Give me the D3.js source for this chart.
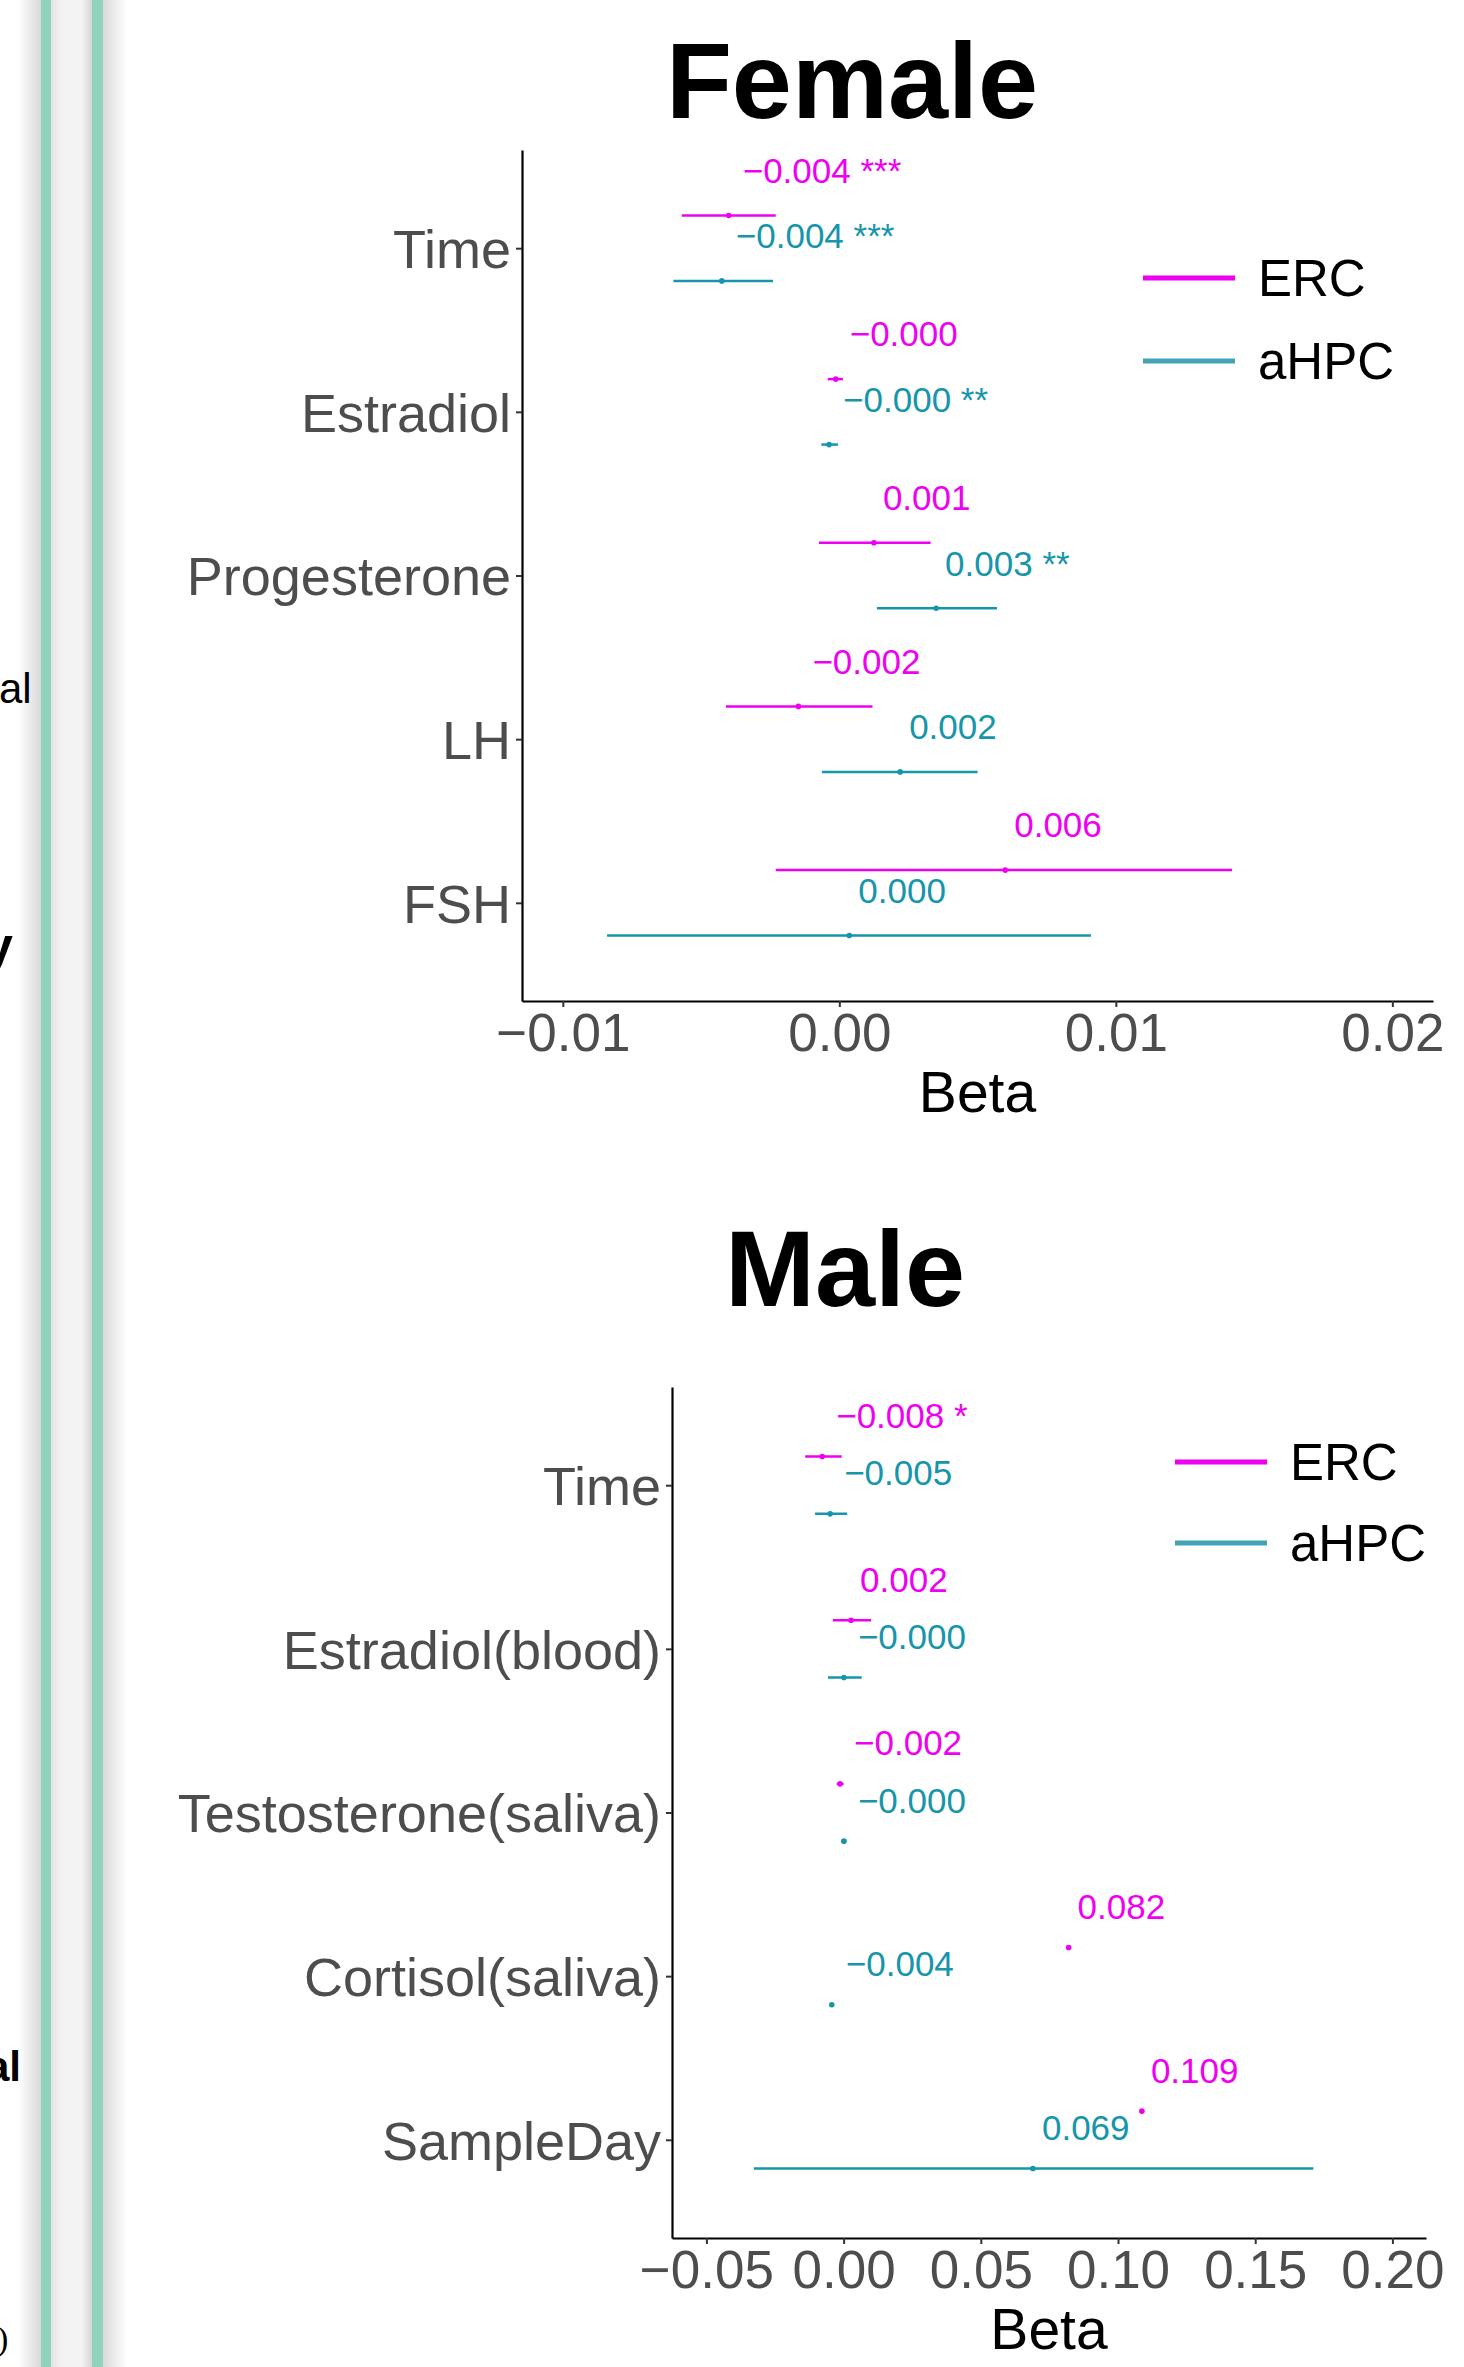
<!DOCTYPE html>
<html>
<head>
<meta charset="utf-8">
<script src="https://cdn.jsdelivr.net/npm/d3@7"></script>
<style>
  body { margin: 0; background: #fff; }
  svg { display: block; font-family: "Liberation Sans", Arial, Helvetica, sans-serif; }
</style>
</head>
<body>
<svg id="chart" width="1464" height="2367"></svg>
<script>
// Female model
const femaleTerms = ["Time", "Estradiol", "Progesterone", "LH", "FSH"];
const femaleErcEst = [-0.0040, -0.00013, 0.00125, -0.00148, 0.0060];
const femaleErcLo = [-0.0057, -0.00042, -0.00074, -0.0041, -0.0023];
const femaleErcHi = [-0.0023, 0.00013, 0.0033, 0.0012, 0.0142];
const femaleErcLabels = ["−0.004 ***", "−0.000", "0.001", "−0.002", "0.006"];
const femaleHpcEst = [-0.00425, -0.00037, 0.0035, 0.0022, 0.00036];
const femaleHpcLo = [-0.0060, -0.00065, 0.00136, -0.00063, -0.0084];
const femaleHpcHi = [-0.0024, -0.00005, 0.0057, 0.0050, 0.0091];
const femaleHpcLabels = ["−0.004 ***", "−0.000 **", "0.003 **", "0.002", "0.000"];
const femaleTicks = [-0.01, 0, 0.01, 0.02];

// Male model
const maleTerms = ["Time", "Estradiol(blood)", "Testosterone(saliva)", "Cortisol(saliva)", "SampleDay"];
const maleErcEst = [-0.0078, 0.0027, -0.0013, 0.082, 0.1087];
const maleErcLo = [-0.0140, -0.0039, -0.0025, 0.082, 0.1087];
const maleErcHi = [-0.0007, 0.0100, 0.0000, 0.082, 0.1087];
const maleErcLabels = ["−0.008 *", "0.002", "−0.002", "0.082", "0.109"];
const maleHpcEst = [-0.0049, 0.0001, 0.0001, -0.0043, 0.069];
const maleHpcLo = [-0.0104, -0.0057, -0.0008, -0.0043, -0.0327];
const maleHpcHi = [0.0013, 0.0066, 0.0010, -0.0043, 0.1712];
const maleHpcLabels = ["−0.005", "−0.000", "−0.000", "−0.004", "0.069"];
const maleTicks = [-0.05, 0, 0.05, 0.10, 0.15, 0.20];

const regions = ["ERC", "aHPC"];
const colors = { ERC: "#ee00f0", aHPC: "#1795ab" };
const legendColors = { ERC: "#ee00f0", aHPC: "#44a2b6" };

const svg = d3.select("#chart");

// Left strip (edge of the neighbouring page)
const defs = svg.append("defs");
function grad(id, stops) {
  const lg = defs.append("linearGradient").attr("id", id)
    .attr("x1", "0%").attr("x2", "100%").attr("y1", "0%").attr("y2", "0%");
  stops.forEach(s => lg.append("stop").attr("offset", s[0]).attr("stop-color", s[1]));
}
grad("shL", [["0%", "#ffffff"], ["100%", "#d9d9d9"]]);
grad("mid", [["0%", "#e4e4e4"], ["25%", "#f3f3f3"], ["75%", "#f3f3f3"], ["100%", "#d6d6d6"]]);
grad("shR", [["0%", "#d9d9d9"], ["100%", "#ffffff"]]);

svg.append("rect").attr("x", 18).attr("y", 0).attr("width", 23).attr("height", 2367).attr("fill", "url(#shL)");
svg.append("rect").attr("x", 51).attr("y", 0).attr("width", 41).attr("height", 2367).attr("fill", "url(#mid)");
svg.append("rect").attr("x", 103).attr("y", 0).attr("width", 24).attr("height", 2367).attr("fill", "url(#shR)");
svg.append("rect").attr("x", 41).attr("y", 0).attr("width", 10).attr("height", 2367).attr("fill", "#90d3bd");
svg.append("rect").attr("x", 92).attr("y", 0).attr("width", 11).attr("height", 2367).attr("fill", "#90d3bd");

svg.append("text").attr("x", -1).attr("y", 703).attr("font-size", 42).text("al");
svg.append("text").attr("x", -16).attr("y", 963).attr("font-size", 52).attr("font-weight", "bold").text("y");
svg.append("text").attr("x", -14).attr("y", 2081).attr("font-size", 42).attr("font-weight", "bold").text("al");
svg.append("text").attr("x", -3).attr("y", 2350).attr("font-size", 34)
  .attr("font-family", "Liberation Serif, serif").text(")");

function drawPanel(p) {
  const g = svg.append("g");

  const x = d3.scaleLinear().domain(p.xDomain).range([p.left, p.right]);
  const y = d3.scalePoint().domain(p.terms).range([p.top, p.bottom]).padding(0.6);
  const dodge = y.step() * p.dodge;

  // title
  g.append("text")
    .attr("x", p.titleX).attr("y", p.titleY)
    .attr("text-anchor", "middle")
    .attr("font-size", 108).attr("font-weight", "bold")
    .text(p.title);

  // x axis
  const xAxis = g.append("g")
    .attr("transform", `translate(0,${p.bottom})`)
    .call(d3.axisBottom(x).tickValues(p.ticks).tickFormat(d3.format(".2f"))
      .tickSize(6).tickSizeOuter(0).tickPadding(6));

  // y axis
  const yAxis = g.append("g")
    .attr("transform", `translate(${p.left},0)`)
    .call(d3.axisLeft(y).tickSize(6).tickSizeOuter(0).tickPadding(5));
  yAxis.selectAll("text").attr("dy", "0.36em");

  [xAxis, yAxis].forEach(a => {
    a.select(".domain").attr("stroke", "#000").attr("stroke-width", 2.2);
    a.selectAll(".tick line").attr("stroke", "#333").attr("stroke-width", 2);
    a.selectAll(".tick text").attr("fill", "#4d4d4d").attr("font-size", 53)
      .attr("font-family", "Liberation Sans, Arial, sans-serif");
  });
  yAxis.selectAll(".tick text").attr("font-size", 54);

  // axis title
  g.append("text")
    .attr("x", (p.left + p.right) / 2).attr("y", p.bottom + 111)
    .attr("text-anchor", "middle").attr("font-size", 57)
    .text("Beta");

  // estimates + confidence intervals
  p.series.forEach(s => {
    const rows = p.terms.map((t, i) => ({
      term: t, est: s.est[i], lo: s.lo[i], hi: s.hi[i], label: s.labels[i]
    }));
    const py = d => y(d.term) + s.sign * dodge;
    const sg = g.append("g");

    sg.selectAll("line.ci").data(rows).enter().append("line")
      .attr("class", "ci")
      .attr("x1", d => x(d.lo)).attr("x2", d => x(d.hi))
      .attr("y1", py).attr("y2", py)
      .attr("stroke", colors[s.name]).attr("stroke-width", 2.5);

    sg.selectAll("circle").data(rows).enter().append("circle")
      .attr("cx", d => x(d.est)).attr("cy", py).attr("r", 2.8)
      .attr("fill", colors[s.name]);

    sg.selectAll("text").data(rows).enter().append("text")
      .attr("x", d => x(d.est) + (d.label.startsWith("−") ? 14 : 9))
      .attr("y", d => py(d) - dodge)
      .attr("font-size", 35).attr("fill", colors[s.name])
      .text(d => d.label);
  });

  // legend
  const leg = g.append("g");
  regions.forEach((r, i) => {
    leg.append("line")
      .attr("x1", p.legX).attr("x2", p.legX + 92)
      .attr("y1", p.legY[i]).attr("y2", p.legY[i])
      .attr("stroke", legendColors[r]).attr("stroke-width", 5);
    leg.append("text")
      .attr("x", p.legX + 115).attr("y", p.legY[i]).attr("dy", "0.36em")
      .attr("font-size", 51).text(r);
  });
}

drawPanel({
  title: "Female", titleX: 852, titleY: 118,
  terms: femaleTerms, ticks: femaleTicks,
  xDomain: [-0.011476, 0.02147],
  left: 522, right: 1433, top: 150, bottom: 1001,
  dodge: 0.2,
  legX: 1143, legY: [278, 361],
  series: [
    { name: "ERC", sign: -1, est: femaleErcEst, lo: femaleErcLo, hi: femaleErcHi, labels: femaleErcLabels },
    { name: "aHPC", sign: 1, est: femaleHpcEst, lo: femaleHpcLo, hi: femaleHpcHi, labels: femaleHpcLabels }
  ]
});

drawPanel({
  title: "Male", titleX: 845, titleY: 1306,
  terms: maleTerms, ticks: maleTicks,
  xDomain: [-0.06254, 0.21224],
  left: 672, right: 1426, top: 1387, bottom: 2238,
  dodge: 0.175,
  legX: 1175, legY: [1462, 1543],
  series: [
    { name: "ERC", sign: -1, est: maleErcEst, lo: maleErcLo, hi: maleErcHi, labels: maleErcLabels },
    { name: "aHPC", sign: 1, est: maleHpcEst, lo: maleHpcLo, hi: maleHpcHi, labels: maleHpcLabels }
  ]
});
</script>
</body>
</html>
